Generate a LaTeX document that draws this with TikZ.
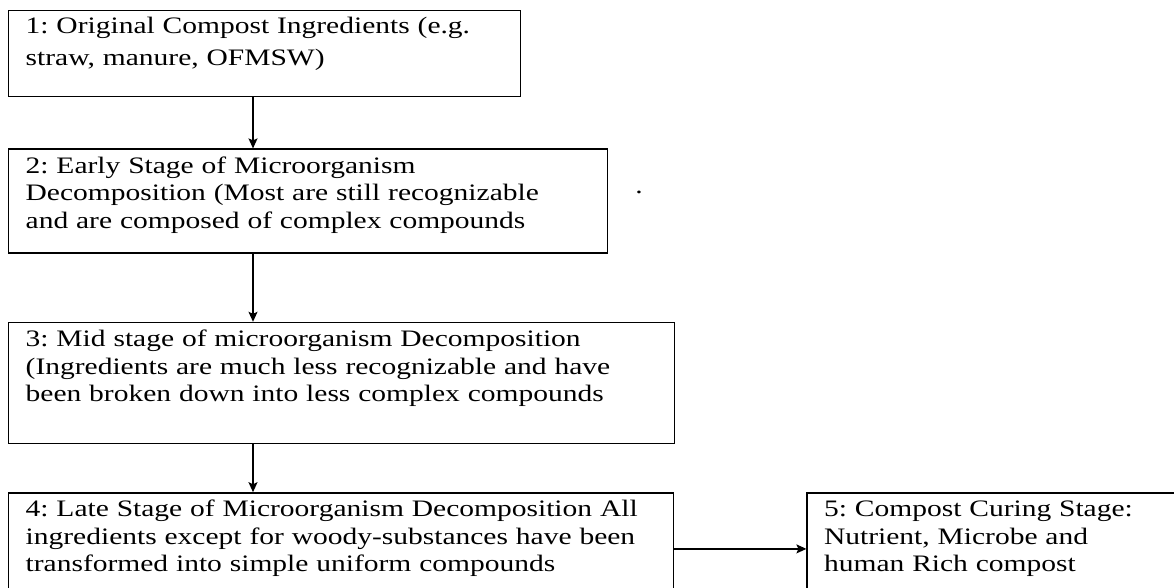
\documentclass[tikz,border=0pt]{standalone}
\usepackage{fontspec}
\setmainfont{Liberation Serif}[FakeStretch=1.25]
\frenchspacing
\usetikzlibrary{arrows.meta,positioning}

\begin{document}
\begin{tikzpicture}[x=1pt,y=-1pt,>={Stealth[length=10pt,width=9pt,inset=2pt]},line width=1.4pt,
    stage box/.style={rectangle,draw,align=left,anchor=north west,
      inner xsep=17pt,inner ysep=0pt,text height=24pt,
      font=\fontsize{23.6}{27.5}\selectfont\frenchspacing}]
    \useasboundingbox (0,0) rectangle (1174,587);
    \clip (0,0) rectangle (1174,587);
    \node[stage box,text width=478pt,text height=23pt,text depth=63pt,
      font=\fontsize{23.6}{32}\selectfont\frenchspacing] (1) at (8,10)
      {1: Original Compost Ingredients (e.g.\\straw, manure, OFMSW)};
    \node[stage box,below=51pt of 1.south west,anchor=north west,
      text width=565pt,text depth=80pt] (2)
      {2: Early Stage of Microorganism\\Decomposition (Most are still recognizable\\and are composed of complex compounds};
    \node[stage box,below=68pt of 2.south west,anchor=north west,
      text width=632pt,text depth=97pt] (3)
      {3: Mid stage of microorganism Decomposition\\(Ingredients are much less recognizable and have\\been broken down into less complex compounds};
    \node[stage box,below=48pt of 3.south west,anchor=north west,
      text width=631pt,text depth=88pt] (4)
      {4: Late Stage of Microorganism Decomposition All\\ingredients except for woody-substances have been\\transformed into simple uniform compounds};
    \node[stage box,right=132pt of 4.north east,anchor=north west,
      text width=366pt,text depth=88pt] (5)
      {5: Compost Curing Stage:\\Nutrient, Microbe and\\human Rich compost};
    \node[anchor=base,font=\fontsize{23.6}{27.5}\selectfont] (p) at (639,193) {.};
    \coordinate (a) at (253,0);
    \draw[->] (1.south -| a) -- (2.north -| a);
    \draw[->] (2.south -| a) -- (3.north -| a);
    \draw[->] (3.south -| a) -- (4.north -| a);
    \draw[->] (4) -- (5);
\end{tikzpicture}
\end{document}
